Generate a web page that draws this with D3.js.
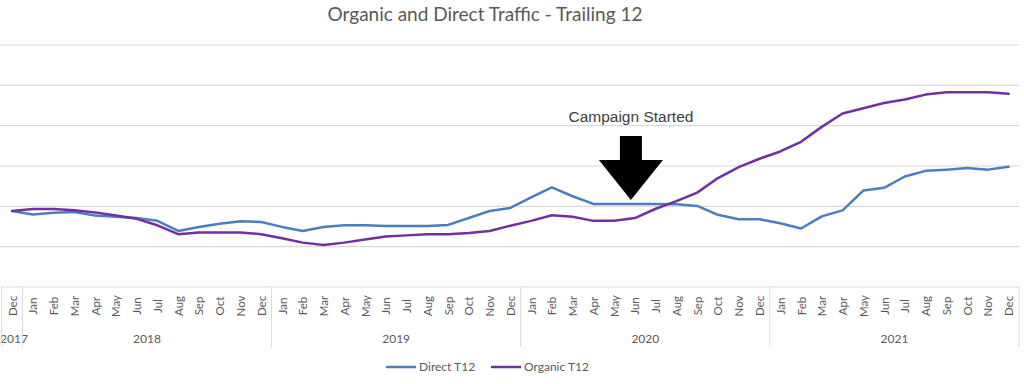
<!DOCTYPE html>
<html>
<head>
<meta charset="utf-8">
<script src="https://cdn.jsdelivr.net/npm/d3@7"></script>
<style>
  body { margin: 0; background: #fff; }
  svg { display: block; }
</style>
</head>
<body>
<svg id="chart" width="1024" height="384"></svg>
<script>
// month labels, Dec 2017 .. Dec 2021
var monthNames = ["Jan","Feb","Mar","Apr","May","Jun","Jul","Aug","Sep","Oct","Nov","Dec"];
var years = [
  { year: "2017", months: ["Dec"] },
  { year: "2018", months: monthNames },
  { year: "2019", months: monthNames },
  { year: "2020", months: monthNames },
  { year: "2021", months: monthNames }
];

var direct = [18.85,
  18.0, 18.4, 18.6, 17.7, 17.4, 17.1, 16.4, 13.9, 14.9, 15.7, 16.3, 16.1,
  14.9, 13.9, 14.9, 15.3, 15.3, 15.1, 15.1, 15.1, 15.4, 17.1, 18.85, 19.6,
  22.2, 24.7, 22.5, 20.6, 20.6, 20.6, 20.6, 20.5, 20.1, 17.9, 16.8, 16.8,
  15.8, 14.5, 17.5, 19.0, 23.9, 24.6, 27.4, 28.8, 29.1, 29.5, 29.1, 29.8];

var organic = [18.85,
  19.35, 19.35, 19.0, 18.5, 17.7, 16.9, 15.3, 13.1, 13.5, 13.5, 13.5, 13.1,
  12.1, 11.0, 10.4, 11.0, 11.8, 12.5, 12.8, 13.1, 13.1, 13.4, 13.9, 15.2,
  16.4, 17.8, 17.4, 16.4, 16.4, 17.1, 19.4, 21.3, 23.4, 27.0, 29.7, 31.8,
  33.6, 36.0, 39.7, 43.0, 44.3, 45.6, 46.5, 47.7, 48.3, 48.3, 48.3, 47.9];

var gridValues = [10, 20, 30, 40, 50, 60];
var annotation = { label: "Campaign Started", at: "2020-Jun" };

var series = [
  { name: "Direct T12", values: direct, color: "#4a7ebf" },
  { name: "Organic T12", values: organic, color: "#7030a0" }
];

// flatten categories
var cats = [];
years.forEach(function(y) {
  y.months.forEach(function(m) { cats.push({ key: y.year + "-" + m, month: m, year: y.year }); });
});

var svg = d3.select("#chart");
var plotLeft = 1.7, plotRight = 1019, plotTop = 45, plotBottom = 287;
var font = "Lato, 'Open Sans', sans-serif";

var x = d3.scalePoint()
  .domain(cats.map(function(c) { return c.key; }))
  .range([plotLeft, plotRight])
  .padding(0.5);
var step = x.step();

var y = d3.scaleLinear().domain([0, 60]).range([plotBottom, plotTop]);

// gridlines
svg.append("g")
  .selectAll("line")
  .data(gridValues)
  .enter().append("line")
    .attr("x1", 0).attr("x2", plotRight)
    .attr("y1", function(d) { return y(d); })
    .attr("y2", function(d) { return y(d); })
    .attr("stroke", "#d9d9d9")
    .attr("stroke-width", 1.2);

// title
svg.append("text")
  .attr("x", 485).attr("y", 21)
  .attr("text-anchor", "middle")
  .attr("font-family", font)
  .attr("font-size", 19)
  .attr("fill", "#595959")
  .text("Organic and Direct Traffic - Trailing 12");

// category axis (month level)
var axis = svg.append("g")
  .attr("transform", "translate(0," + plotBottom + ")")
  .call(d3.axisBottom(x).tickSize(0).tickFormat(function(k) { return k.split("-")[1]; }));
axis.select(".domain").attr("stroke", "#d9d9d9").attr("d", "M" + plotLeft + ",0H" + plotRight);
axis.selectAll("text")
  .attr("font-family", font)
  .attr("font-size", 11.5)
  .attr("fill", "#595959")
  .attr("text-anchor", "middle")
  .attr("dy", "0.35em")
  .attr("transform", "translate(0,19) rotate(-90)")
  .attr("y", 0).attr("x", 0);

// year level
var pos = 0;
var yearG = svg.append("g");
var bounds = [];
years.forEach(function(yr) {
  var x0 = x(cats[pos].key) - step / 2;
  var x1 = x(cats[pos + yr.months.length - 1].key) + step / 2;
  bounds.push(x0);
  var t = yearG.append("text")
    .attr("x", (x0 + x1) / 2).attr("y", 343)
    .attr("text-anchor", "middle")
    .attr("font-family", font)
    .attr("font-size", 12)
    .attr("fill", "#595959")
    .text(yr.year);
  // keep the narrow 2017 label inside the picture
  var bb = t.node().getBBox();
  if (bb.x < 0) t.attr("x", (x0 + x1) / 2 - bb.x);
  pos += yr.months.length;
});
bounds.push(plotRight);
yearG.selectAll("line")
  .data(bounds)
  .enter().append("line")
    .attr("x1", function(d) { return d; }).attr("x2", function(d) { return d; })
    .attr("y1", plotBottom).attr("y2", 347)
    .attr("stroke", "#d9d9d9");

// lines
var line = d3.line()
  .x(function(d, i) { return x(cats[i].key); })
  .y(function(d) { return y(d); });

svg.append("g")
  .selectAll("path")
  .data(series)
  .enter().append("path")
    .attr("d", function(s) { return line(s.values); })
    .attr("fill", "none")
    .attr("stroke", function(s) { return s.color; })
    .attr("stroke-width", 2.5)
    .attr("stroke-linejoin", "round")
    .attr("stroke-linecap", "round");

// annotation arrow
var ax = x(annotation.at) - 4;
svg.append("path")
  .attr("d", "M" + (ax - 11) + ",136H" + (ax + 11) + "V160H" + (ax + 32) +
             "L" + ax + ",200L" + (ax - 32) + ",160H" + (ax - 11) + "Z")
  .attr("fill", "#000");
svg.append("text")
  .attr("x", ax).attr("y", 122)
  .attr("text-anchor", "middle")
  .attr("font-family", "'Liberation Sans', Arial, sans-serif")
  .attr("font-size", 15.5)
  .attr("fill", "#404040")
  .text(annotation.label);

// legend
var legend = svg.append("g").selectAll("g")
  .data(series)
  .enter().append("g")
    .attr("transform", function(s, i) { return "translate(" + (386 + i * 105) + ",367)"; });
legend.append("line")
  .attr("x1", 0).attr("x2", 30)
  .attr("stroke", function(s) { return s.color; })
  .attr("stroke-width", 2.5);
legend.append("text")
  .attr("x", 33).attr("dy", "0.35em")
  .attr("font-family", font)
  .attr("font-size", 12)
  .attr("fill", "#595959")
  .text(function(s) { return s.name; });
</script>
</body>
</html>
